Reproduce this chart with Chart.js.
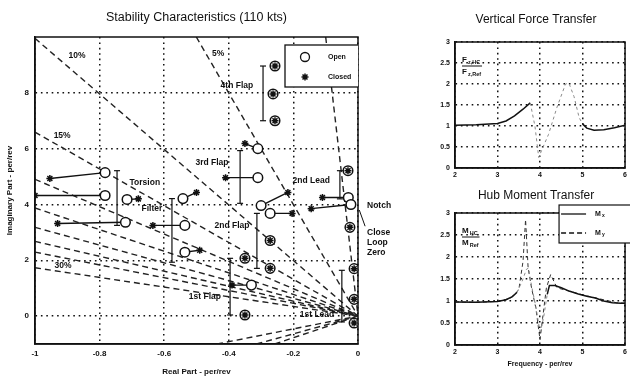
<!DOCTYPE html>
<html>
<head>
<meta charset="utf-8">
<title>Stability and transfer characteristics</title>
<script src="https://cdn.jsdelivr.net/npm/chart.js@4.4.1/dist/chart.umd.min.js"></script>
<style>
  html, body { margin: 0; padding: 0; background: #fff; }
  body { position: relative; width: 630px; height: 377px; overflow: hidden; }
  canvas { position: absolute; display: block; }
</style>
</head>
<body>
<canvas id="stability" width="420" height="377" style="left:0;top:0"></canvas>
<canvas id="force" width="210" height="190" style="left:420px;top:0"></canvas>
<canvas id="moment" width="210" height="187" style="left:420px;top:190px"></canvas>
<script>
// ---------- Root locus: stability characteristics at 110 kts (per/rev) ----------
const reTicks = [-1, -0.8, -0.6, -0.4, -0.2, 0];
const imTicks = [0, 2, 4, 6, 8];

// constant-damping rays (damping ratio), upper half plane and the few drawn below the axis
const dampingUpper = [0.01, 0.05, 0.10, 0.15, 0.20, 0.25, 0.30, 0.35, 0.40, 0.50];
const dampingLower = [0.25, 0.30, 0.40];

// open-loop poles and where each one moves with the loop closed
const openRe   = [-0.783, -0.783, -0.715, -0.720, -0.542, -0.536, -0.536, -0.310, -0.310, -0.300, -0.272, -0.272, -0.350, -0.272, -0.330, -0.350, -0.257, -0.263, -0.257, -0.031, -0.030, -0.022, -0.025, -0.012, -0.012, -0.012];
const openIm   = [5.14, 4.32, 4.18, 3.36, 4.21, 3.25, 2.29, 6.00, 4.96, 3.96, 3.68, 2.71, 2.07, 1.71, 1.11, 0.04, 8.96, 7.96, 7.00, 5.21, 4.25, 4.00, 3.18, 1.70, 0.60, -0.25];
const closedRe = [-0.954, -1.000, -0.680, -0.930, -0.500, -0.635, -0.490, -0.350, -0.410, -0.217, -0.204, -0.272, -0.350, -0.272, -0.390, -0.350, -0.257, -0.263, -0.257, -0.031, -0.110, -0.145, -0.025, -0.012, -0.012, -0.012];
const closedIm = [4.93, 4.32, 4.20, 3.32, 4.43, 3.25, 2.36, 6.18, 4.96, 4.43, 3.68, 2.71, 2.07, 1.71, 1.11, 0.04, 8.96, 7.96, 7.00, 5.21, 4.25, 3.85, 3.18, 1.70, 0.60, -0.25];

// frequency spread of each mode
const barRe = [-0.746, -0.576, -0.365, -0.313, -0.396, -0.294, -0.056, -0.050];
const barLo = [3.25, 1.93, 4.04, 1.71, 0.04, 7.00, 4.20, -0.21];
const barHi = [5.21, 4.21, 5.93, 3.68, 2.07, 8.96, 5.21, 1.64];

// mode and damping notes
const noteText = ['10%', '5%', '15%', '30%', '4th Flap', '3rd Flap', '2nd Lead', 'Torsion', 'Filter', '2nd Flap', '1st Flap', '1st Lead', 'Notch', 'Close', 'Loop', 'Zero'];
const noteRe   = [-0.87, -0.433, -0.916, -0.913, -0.375, -0.452, -0.145, -0.660, -0.638, -0.390, -0.474, -0.127, 0.028, 0.028, 0.028, 0.028];
const noteIm   = [9.32, 9.39, 6.46, 1.82, 8.25, 5.50, 4.86, 4.79, 3.86, 3.25, 0.68, 0.04, 3.96, 3.00, 2.64, 2.29];

// ---------- Transfer functions vs frequency (per/rev) ----------
const freqTicks = [2, 3, 4, 5, 6];
const ratioTicks = [0, 0.5, 1, 1.5, 2, 2.5, 3];

const fzFreq  = [2.0, 2.5, 3.0, 3.2, 3.4, 3.6, 3.77, 3.88, 3.97, 4.05, 4.2, 4.4, 4.6, 4.68, 4.8, 4.92, 5.0, 5.1, 5.27, 5.5, 5.75, 6.0];
const fzRatio = [1.02, 1.03, 1.06, 1.12, 1.24, 1.40, 1.55, 1.00, 0.25, 0.45, 0.80, 1.45, 2.00, 2.02, 1.70, 1.20, 1.05, 0.95, 0.90, 0.91, 0.96, 1.02];

const mxFreq  = [2.0, 2.5, 3.0, 3.2, 3.35, 3.46, 3.58, 3.68, 3.73, 3.8, 3.9, 4.0, 4.08, 4.17, 4.22, 4.35, 4.5, 4.7, 4.9, 5.1, 5.3, 5.5, 5.7, 5.9, 6.0];
const mxRatio = [0.98, 0.97, 0.99, 1.03, 1.10, 1.20, 1.45, 1.72, 1.75, 1.35, 0.88, 0.30, 0.60, 1.15, 1.35, 1.35, 1.30, 1.22, 1.16, 1.11, 1.07, 1.00, 0.96, 0.95, 0.95];

const myFreq  = [2.0, 2.5, 3.0, 3.3, 3.5, 3.6, 3.66, 3.72, 3.8, 3.9, 4.0, 4.06, 4.15, 4.25, 4.4, 4.7, 5.0, 5.4, 5.8, 6.0];
const myRatio = [0.98, 0.97, 0.99, 1.06, 1.25, 1.90, 2.85, 1.75, 1.30, 0.85, 0.12, 0.60, 1.30, 1.60, 1.30, 1.22, 1.14, 1.05, 0.96, 0.95];

// ---------- shared look ----------
const INK = '#111';
const FAMILY = "'Liberation Sans', Arial, sans-serif";
Chart.defaults.font.family = FAMILY;
Chart.defaults.color = INK;
Chart.defaults.animation = false;

const pairs = (xs, ys) => xs.map((x, i) => ({ x, y: ys[i] }));
const fixed = list => scale => { scale.ticks = list.map(v => ({ value: v })); };

function axis(min, max, list, size, fitKey, fitVal, tickPad, extra) {
  return Object.assign({
    type: 'linear', min, max,
    afterBuildTicks: fixed(list),
    afterFit: s => { s[fitKey] = fitVal; },
    grid: { color: INK, lineWidth: 1.5, drawTicks: false },
    border: { display: true, color: INK, width: 1.5, dash: [1.6, 3.8] },
    ticks: { padding: tickPad, font: { size, weight: 'bold' }, color: INK, autoSkip: false, maxRotation: 0,
             callback: v => String(v) }
  }, extra || {});
}

function drawStar(ctx, x, y, r) {
  ctx.beginPath();
  for (let k = 0; k < 4; k++) {
    const a = k * Math.PI / 4;
    ctx.moveTo(x - Math.cos(a) * r, y - Math.sin(a) * r);
    ctx.lineTo(x + Math.cos(a) * r, y + Math.sin(a) * r);
  }
  ctx.stroke();
}

function frame(ctx, a) {
  ctx.strokeStyle = INK; ctx.lineWidth = 1.5; ctx.setLineDash([]);
  ctx.strokeRect(a.left, a.top, a.right - a.left, a.bottom - a.top);
}

// ---------- stability plot ----------
function rayPoints() {
  const pts = [];
  const add = (z, sign, lim) => {
    const s = Math.sqrt(1 - z * z) / z;          // |Im/Re| along the ray
    const xr = Math.min(1, lim / s);
    pts.push({ x: -xr, y: sign * s * xr }, { x: 0, y: 0 }, { x: 0, y: null });
  };
  dampingUpper.forEach(z => add(z, 1, 10));
  dampingLower.forEach(z => add(z, -1, 1));
  return pts;
}

function linkPoints() {
  const pts = [];
  openRe.forEach((re, i) => {
    if (re === closedRe[i] && openIm[i] === closedIm[i]) return;
    pts.push({ x: re, y: openIm[i] }, { x: closedRe[i], y: closedIm[i] }, { x: closedRe[i], y: null });
  });
  return pts;
}

function barPoints() {
  const pts = [];
  barRe.forEach((re, i) => {
    pts.push({ x: re, y: barHi[i] }, { x: re, y: barLo[i] }, { x: re, y: null });
  });
  return pts;
}

const stabilityDecor = {
  id: 'stabilityDecor',
  afterDatasetsDraw(chart) {
    const { ctx, chartArea: a, scales: { x, y } } = chart;
    ctx.save();
    frame(ctx, a);

    ctx.fillStyle = INK;
    ctx.font = `bold 8.5px ${FAMILY}`;
    ctx.textBaseline = 'middle';
    noteText.forEach((t, i) => {
      ctx.textAlign = noteRe[i] > 0 ? 'left' : 'center';
      ctx.fillText(t, x.getPixelForValue(noteRe[i]), y.getPixelForValue(noteIm[i]));
    });

    // leader from the notch poles to the closed-loop zero note
    ctx.lineWidth = 1;
    ctx.beginPath();
    ctx.moveTo(x.getPixelForValue(0.004), y.getPixelForValue(3.80));
    ctx.lineTo(x.getPixelForValue(0.022), y.getPixelForValue(3.22));
    ctx.stroke();

    // legend, cut off by the plot frame
    ctx.save();
    ctx.beginPath();
    ctx.rect(a.left, a.top, a.right - a.left, a.bottom - a.top);
    ctx.clip();
    const bx = a.right - 73, by = a.top + 8;
    ctx.fillStyle = '#fff';
    ctx.fillRect(bx, by, 95, 42);
    ctx.lineWidth = 1.3;
    ctx.strokeRect(bx, by, 95, 42);
    ctx.beginPath();
    ctx.arc(bx + 20, by + 12, 4.5, 0, Math.PI * 2);
    ctx.fill(); ctx.stroke();
    ctx.lineWidth = 1.5;
    drawStar(ctx, bx + 20, by + 32, 3.5);
    ctx.fillStyle = INK;
    ctx.font = `bold 7px ${FAMILY}`;
    ctx.textAlign = 'left';
    ctx.fillText('Open', bx + 43, by + 12);
    ctx.fillText('Closed', bx + 43, by + 32);
    ctx.restore();

    ctx.font = `12.5px ${FAMILY}`;
    ctx.textAlign = 'center';
    ctx.fillText('Stability Characteristics (110 kts)', (a.left + a.right) / 2, 18);
    ctx.restore();
  }
};

new Chart(document.getElementById('stability'), {
  type: 'scatter',
  data: {
    datasets: [
      { label: 'Closed', data: pairs(closedRe, closedIm), pointStyle: 'star', pointRadius: 3.5,
        borderColor: INK, borderWidth: 1.5, backgroundColor: INK },
      { label: 'Open', data: pairs(openRe, openIm), pointStyle: 'circle', pointRadius: 4.8,
        borderColor: INK, borderWidth: 1.5, backgroundColor: '#fff' },
      { label: 'links', data: linkPoints(), showLine: true, spanGaps: false, pointRadius: 0,
        borderColor: INK, borderWidth: 1.4 },
      { label: 'spread', data: barPoints(), showLine: true, spanGaps: false, pointStyle: 'line',
        pointRadius: 3, borderColor: INK, borderWidth: 1.2, backgroundColor: INK },
      { label: 'damping', data: rayPoints(), showLine: true, spanGaps: false, pointRadius: 0,
        borderColor: '#222', borderWidth: 1.4, borderDash: [6, 4] }
    ]
  },
  options: {
    responsive: false,
    layout: { padding: { top: 37, right: 62, left: 0, bottom: 0 } },
    plugins: { legend: { display: false }, tooltip: { enabled: false } },
    scales: {
      x: axis(-1, 0, reTicks, 8, 'height', 33, 5, {
        title: { display: true, text: 'Real Part - per/rev', font: { size: 8, weight: 'bold' }, padding: { top: 0, bottom: 0 } }
      }),
      y: axis(-1, 10, imTicks, 8, 'width', 35, 6, {
        title: { display: true, text: 'Imaginary Part - per/rev', font: { size: 8, weight: 'bold' }, padding: { top: 5, bottom: 0 } }
      })
    }
  },
  plugins: [stabilityDecor]
});

// ---------- transfer-function plots ----------
function fadedBetween(lo, hi) {
  const inside = c => c.p0.parsed.x >= lo && c.p1.parsed.x <= hi;
  return {
    borderColor: c => inside(c) ? '#8a8a8a' : undefined,
    borderDash: c => inside(c) ? [3, 3] : undefined,
    borderWidth: c => inside(c) ? 1 : undefined
  };
}

function ratioLabel(ctx, x0, yTop, sym, upper, lower) {
  ctx.textAlign = 'left';
  ctx.textBaseline = 'alphabetic';
  ctx.font = `bold 8px ${FAMILY}`;
  ctx.fillText(sym, x0, yTop);
  let w = ctx.measureText(sym).width;
  ctx.font = `bold 5.5px ${FAMILY}`;
  ctx.fillText(upper, x0 + w + 1, yTop + 2);
  const wu = w + 1 + ctx.measureText(upper).width;
  ctx.font = `bold 8px ${FAMILY}`;
  ctx.fillText(sym, x0, yTop + 12);
  ctx.font = `bold 5.5px ${FAMILY}`;
  ctx.fillText(lower, x0 + w + 1, yTop + 14);
  const wl = w + 1 + ctx.measureText(lower).width;
  ctx.lineWidth = 1;
  ctx.beginPath();
  ctx.moveTo(x0, yTop + 4);
  ctx.lineTo(x0 + Math.max(wu, wl) + 1, yTop + 4);
  ctx.stroke();
}

function transferDecor(id, title, titleY, sym, upper, lower, legend) {
  return {
    id,
    afterDatasetsDraw(chart) {
      const { ctx, chartArea: a } = chart;
      ctx.save();
      frame(ctx, a);
      ctx.fillStyle = INK;
      ctx.font = `12px ${FAMILY}`;
      ctx.textAlign = 'center';
      ctx.textBaseline = 'middle';
      ctx.fillText(title, (a.left + a.right) / 2 - 4, titleY);
      ratioLabel(ctx, a.left + 7, a.top + 20, sym, upper, lower);
      if (legend) {
        const bx = a.right - 66, by = a.top - 8;
        ctx.fillStyle = '#fff';
        ctx.fillRect(bx, by, 80, 38);
        ctx.lineWidth = 1.2;
        ctx.strokeRect(bx, by, 80, 38);
        ctx.lineWidth = 1.3;
        legend.forEach((item, i) => {
          const ly = by + 9 + i * 19;
          ctx.setLineDash(item.dash);
          ctx.beginPath();
          ctx.moveTo(bx + 2, ly); ctx.lineTo(bx + 27, ly);
          ctx.stroke();
          ctx.setLineDash([]);
          ctx.fillStyle = INK;
          ctx.textAlign = 'left';
          ctx.textBaseline = 'middle';
          ctx.font = `bold 7px ${FAMILY}`;
          ctx.fillText('M', bx + 36, ly);
          ctx.font = `bold 5px ${FAMILY}`;
          ctx.fillText(item.sub, bx + 43, ly + 2);
        });
      }
      ctx.restore();
    }
  };
}

new Chart(document.getElementById('force'), {
  type: 'scatter',
  data: {
    datasets: [
      { label: 'Fz', data: pairs(fzFreq, fzRatio), showLine: true, pointRadius: 0,
        borderColor: INK, borderWidth: 1.5, segment: fadedBetween(3.77, 5.0) }
    ]
  },
  options: {
    responsive: false,
    layout: { padding: { top: 42, right: 2, left: 0, bottom: 0 } },
    plugins: { legend: { display: false }, tooltip: { enabled: false } },
    scales: {
      x: axis(2, 6, freqTicks, 7, 'height', 22, 3),
      y: axis(0, 3, ratioTicks, 7, 'width', 35, 5)
    }
  },
  plugins: [transferDecor('forceDecor', 'Vertical Force Transfer', 20, 'F', 'z,HC', 'z,Ref', null)]
});

new Chart(document.getElementById('moment'), {
  type: 'scatter',
  data: {
    datasets: [
      { label: 'Mx', data: pairs(mxFreq, mxRatio), showLine: true, pointRadius: 0,
        borderColor: INK, borderWidth: 1.5, segment: fadedBetween(3.46, 4.17) },
      { label: 'My', data: pairs(myFreq, myRatio), showLine: true, pointRadius: 0,
        borderColor: '#333', borderWidth: 1, borderDash: [4, 3] }
    ]
  },
  options: {
    responsive: false,
    layout: { padding: { top: 23, right: 2, left: 0, bottom: 0 } },
    plugins: { legend: { display: false }, tooltip: { enabled: false } },
    scales: {
      x: axis(2, 6, freqTicks, 7, 'height', 32, 3, {
        title: { display: true, text: 'Frequency - per/rev', font: { size: 7, weight: 'bold' }, padding: { top: 0, bottom: 9 } }
      }),
      y: axis(0, 3, ratioTicks, 7, 'width', 35, 5)
    }
  },
  plugins: [transferDecor('momentDecor', 'Hub Moment Transfer', 6, 'M', 'HC', 'Ref',
    [{ dash: [], sub: 'x' }, { dash: [5, 3], sub: 'y' }])]
});
</script>
</body>
</html>
